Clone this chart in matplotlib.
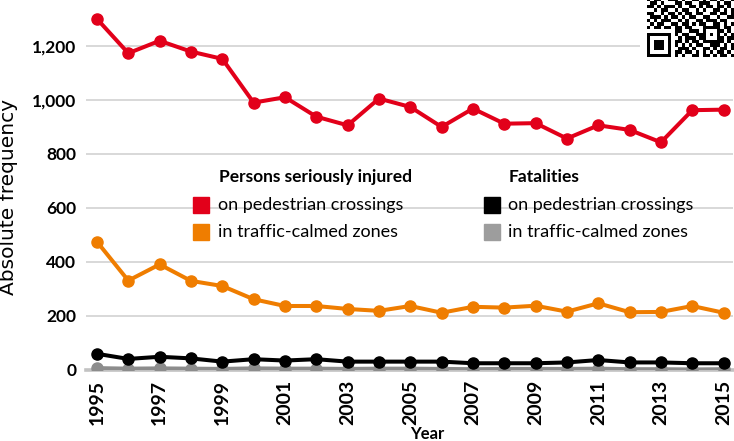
import matplotlib
matplotlib.use("Agg")
import matplotlib.pyplot as plt
from matplotlib.patches import Rectangle
import numpy as np

# ---- data ----
years = list(range(1995, 2016))
injured_crossings = [1300, 1173, 1219, 1179, 1152, 990, 1010, 938, 906, 1005, 974,
                     900, 968, 912, 914, 857, 906, 889, 843, 962, 964]
injured_calmed = [475, 331, 391, 330, 311, 262, 237, 237, 226, 219, 237,
                  212, 234, 231, 238, 216, 247, 214, 215, 237, 212]
fatal_crossings = [60, 41, 49, 43, 31, 40, 35, 40, 31, 31, 31,
                   31, 25, 25, 25, 28, 37, 28, 28, 25, 25]
fatal_calmed = [7, 5, 6, 5, 4, 6, 5, 5, 4, 5, 5,
                4, 3, 4, 4, 4, 5, 3, 3, 2, 3]
y_ticks = [0, 200, 400, 600, 800, 1000, 1200]
x_ticks = years[::2]

group_titles = ["Persons seriously injured", "Fatalities"]
item_labels = ["on pedestrian crossings", "in traffic-calmed zones"]

RED = "#e2001a"
ORANGE = "#ef7d00"
BLACK = "#000000"
GREY = "#8c8c8c"
GREY_KEY = "#9d9d9d"

plt.rcParams["font.family"] = ["Lato", "DejaVu Sans"]

W, H = 734, 441
fig = plt.figure(figsize=(W / 100, H / 100), dpi=100)
fig.patch.set_facecolor("white")

ax_l, ax_r, ax_t, ax_b = 86, 733, 0, 370
ax = fig.add_axes([ax_l / W, (H - ax_b) / H, (ax_r - ax_l) / W, (ax_b - ax_t) / H])
ax.set_xlim(1994.65, 2015.3)
ax.set_ylim(0, 1370)

for s in ax.spines.values():
    s.set_visible(False)
ax.set_yticks(y_ticks)
ax.set_yticklabels([f"{v:,}" for v in y_ticks], fontsize=12.5, fontweight="bold")
ax.set_xticks(x_ticks)
ax.set_xticklabels([str(v) for v in x_ticks], rotation=90, fontsize=14,
                   fontweight="bold")
ax.tick_params(axis="both", length=0)
ax.tick_params(axis="y", pad=7)
ax.tick_params(axis="x", pad=7)
ax.set_axisbelow(True)
ax.yaxis.grid(True, color="#d2d2d2", linewidth=1.2)
ax.axhline(0, color="#c2c2c2", linewidth=2.6, zorder=1.5, clip_on=False)

line_kw = dict(linewidth=2.9, marker="o", markersize=8)
ax.plot(years, fatal_calmed, color=GREY, zorder=2, **line_kw)
ax.plot(years, fatal_crossings, color=BLACK, zorder=3, **line_kw)
ax.plot(years, injured_calmed, color=ORANGE, zorder=4, **line_kw)
ax.plot(years, injured_crossings, color=RED, zorder=5, **line_kw)

ax.set_ylabel("Absolute frequency", family=["DejaVu Sans"], fontsize=14.5)
ax.yaxis.set_label_coords((18 - ax_l) / (ax_r - ax_l), (ax_b - 197) / (ax_b - ax_t))
ax.set_xlabel("Year", fontsize=12, fontweight="bold")
ax.xaxis.set_label_coords((427 - ax_l) / (ax_r - ax_l), -(434 - ax_b) / (ax_b - ax_t))
ax.xaxis.label.set_va("center")


# ---- key, drawn in pixel positions of the figure ----
def fx(px):
    return px / W


def fy(py):
    return 1 - py / H


key_groups = [
    (193, 219, [RED, ORANGE]),
    (484, 509, [BLACK, GREY_KEY]),
]
for (sq_x, tx, cols), title in zip(key_groups, group_titles):
    fig.text(fx(tx), fy(177), title, fontsize=12.5, fontweight="bold",
             va="center", ha="left")
    for i, (c, lab) in enumerate(zip(cols, item_labels)):
        cy = 205 + i * 27
        fig.patches.append(Rectangle((fx(sq_x), fy(cy + 8)), 16 / W, 16 / H,
                                     transform=fig.transFigure, color=c))
        fig.text(fx(tx - 1), fy(cy), lab, fontsize=13, va="center", ha="left")

# ---- QR code badge, top right ----
QR_DATA = [
    "0000000010110100000000000",
    "0000000001001000000000000",
    "0000000011101100000000000",
    "0000000000110100000000000",
    "0000000010011000000000000",
    "0000000001101100000000000",
    "0000000010101010000000000",
    "0000000001011010000000000",
    "1011001110100110101101001",
    "0110100011011001110010110",
    "1101011101001101011011010",
    "0010110010110010100110101",
    "1100101101011011001101101",
    "0111010110101100110010011",
    "1010111001010011011101100",
    "0101100110110101100110101",
    "1011010011011000111010110",
    "0000000011001110101011010",
    "0000000010110011010110101",
    "0000000001011101101101011",
    "0000000011010110110011010",
    "0000000010101011001110101",
    "0000000001110100110101101",
    "0000000011011010101011010",
    "0000000010100110110101101",
]
N = 25
qr = np.array([[int(ch) for ch in row.ljust(N, "0")[:N]] for row in QR_DATA])


def finder(r, c):
    qr[max(r - 1, 0):r + 8, max(c - 1, 0):c + 8] = 0
    qr[r:r + 7, c:c + 7] = 1
    qr[r + 1:r + 6, c + 1:c + 6] = 0
    qr[r + 2:r + 5, c + 2:c + 5] = 1


finder(0, 0)
finder(0, 18)
finder(18, 0)
qr[16:21, 16:21] = 1
qr[17:20, 17:20] = 0
qr[18, 18] = 1
for k in range(8, 17):
    qr[6, k] = 1 - k % 2
    qr[k, 6] = 1 - k % 2

pad = np.zeros((N, 2), dtype=int)
qr_full = np.hstack([pad, qr])
mod = 3.45
qr_w = qr_full.shape[1] * mod
qr_h = N * mod
qr_left = 733 - qr_w
qr_bottom = 57
qax = fig.add_axes([fx(qr_left), fy(qr_bottom), qr_w / W, qr_h / H], zorder=10)
qax.imshow(qr_full, cmap="Greys", vmin=0, vmax=1, interpolation="nearest",
           aspect="auto")
qax.set_axis_off()

fig.savefig("out.png", dpi=100, facecolor="white")
